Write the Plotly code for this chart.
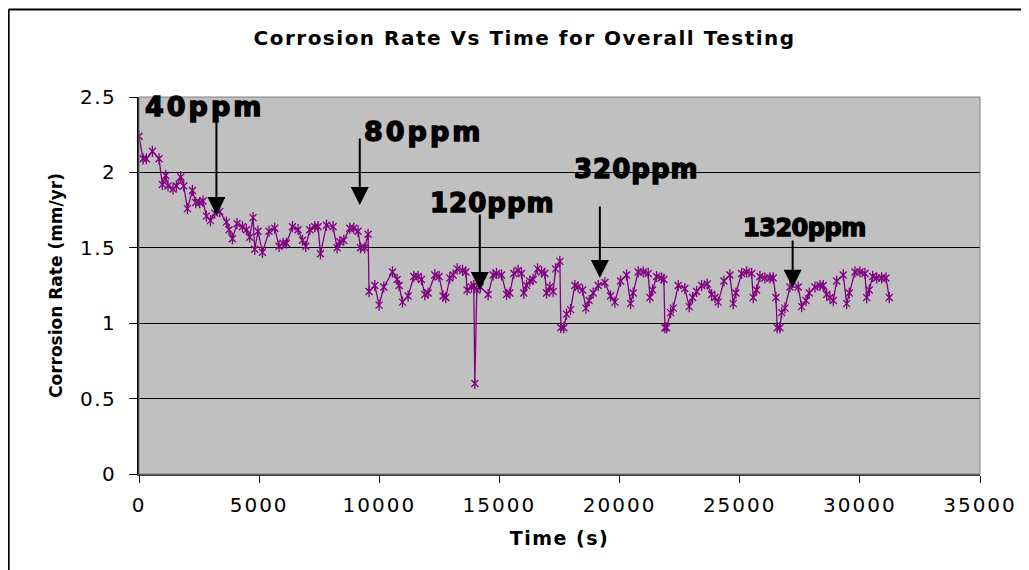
import plotly.graph_objects as go

# ---- data ----
time_s = [0, 167, 308, 558, 833, 974, 1112, 1207, 1415, 1557, 1736, 1861, 2015, 2223, 2361, 2527,
          2664, 2806, 2973, 3152, 3360, 3639, 3747, 3888, 4080, 4305, 4471, 4609, 4746, 4817, 4954,
          5137, 5412, 5649, 5828, 5995, 6137, 6386, 6620, 6803, 6940, 7107, 7315, 7452, 7552, 7802,
          8077, 8243, 8356, 8522, 8772, 8938, 9117, 9217, 9396, 9534,
          9575, 9813, 9992, 10187, 10549, 10741, 10824, 10966, 11199, 11436, 11615, 11757, 11894,
          12032, 12311, 12490, 12656, 12769, 12935, 13072, 13239, 13464, 13601, 13655, 13839, 13934,
          13976, 14059, 14205, 14530, 14738, 14880, 15088, 15296, 15433, 15599, 15778, 15920, 16016,
          16128, 16266, 16403, 16586, 16753, 16890, 16961, 17098, 17236, 17336, 17515,
          17556, 17681, 17793, 17960, 18139, 18277, 18460, 18597, 18734, 18901, 19109, 19388, 19625,
          19804, 20041, 20291, 20458, 20566, 20774, 20983, 21191, 21262, 21374, 21540, 21749, 21844,
          21886, 21957, 22123, 22232, 22440, 22718, 22898, 23039, 23206, 23414, 23647, 23830, 23968,
          24105, 24342, 24592, 24730, 24842, 25079, 25287, 25495, 25562, 25703, 25841, 26049, 26257,
          26395, 26507, 26561, 26674, 26744, 26882, 27090, 27436, 27577, 27756, 27893, 28131, 28339,
          28476, 28618, 28755, 28893, 29034, 29309, 29450, 29559, 29796, 30004, 30212, 30283, 30391,
          30533, 30699, 30907, 31087, 31224]
rate_mm_yr = [2.24, 2.09, 2.09, 2.14, 2.09, 1.92, 1.98, 1.91, 1.89, 1.91, 1.97, 1.91, 1.76, 1.88, 1.80, 1.80,
              1.81, 1.71, 1.68, 1.73, 1.74, 1.67, 1.62, 1.56, 1.66, 1.64, 1.62, 1.57, 1.70, 1.49, 1.61,
              1.47, 1.61, 1.63, 1.51, 1.53, 1.53, 1.64, 1.62, 1.55, 1.51, 1.62, 1.64, 1.64, 1.46, 1.65,
              1.64, 1.50, 1.54, 1.55, 1.63, 1.63, 1.61, 1.50, 1.50, 1.59,
              1.21, 1.25, 1.12, 1.24, 1.34, 1.29, 1.25, 1.14, 1.18, 1.31, 1.31, 1.29, 1.19,
              1.20, 1.32, 1.31, 1.18, 1.17, 1.30, 1.32, 1.36, 1.35, 1.34, 1.22, 1.24, 1.25,
              0.60, 1.22, 1.24, 1.19, 1.32, 1.33, 1.32, 1.19, 1.20, 1.33, 1.35, 1.33, 1.20,
              1.25, 1.28, 1.29, 1.36, 1.34, 1.33, 1.20, 1.24, 1.21, 1.36, 1.41,
              0.97, 0.97, 1.06, 1.09, 1.25, 1.24, 1.22, 1.10, 1.15, 1.20, 1.25, 1.27, 1.18,
              1.14, 1.28, 1.32, 1.13, 1.20, 1.34, 1.34, 1.33, 1.17, 1.22, 1.31, 1.30, 1.29,
              0.97, 0.97, 1.07, 1.10, 1.25, 1.23, 1.11, 1.17, 1.21, 1.25, 1.26, 1.19, 1.17,
              1.14, 1.28, 1.32, 1.13, 1.20, 1.33, 1.34, 1.33, 1.17, 1.22, 1.31, 1.30, 1.30,
              1.30, 1.17, 0.97, 0.97, 1.07, 1.10, 1.24, 1.24, 1.11, 1.15, 1.20, 1.24, 1.25,
              1.25, 1.19, 1.17, 1.15, 1.28, 1.32, 1.13, 1.20, 1.34, 1.34, 1.33, 1.17, 1.22,
              1.31, 1.30, 1.30, 1.30, 1.17]

dose_labels = ["40ppm", "80ppm", "120ppm", "320ppm", "1320ppm"]
x_ticks = [0, 5000, 10000, 15000, 20000, 25000, 30000, 35000]
x_tick_text = ["0", "5000", "10000", "15000", "20000", "25000", "30000", "35000"]
y_ticks = [0, 0.5, 1, 1.5, 2, 2.5]
y_tick_text = ["0", "0.5", "1", "1.5", "2", "2.5"]

PURPLE = "#800080"
FONT = "DejaVu Sans"


def spaced(t, ls):
    return f'<span style="letter-spacing:{ls}px">{t}</span>'


def big(t, ls):
    return f'<span style="letter-spacing:{ls}px;stroke:#000;stroke-width:1.4px">{t}</span>'


fig = go.Figure()
fig.add_trace(go.Scatter(
    x=time_s, y=rate_mm_yr, mode="lines+markers",
    line=dict(color=PURPLE, width=1.3),
    marker=dict(symbol="x-thin-open", size=7, color=PURPLE, line=dict(color=PURPLE, width=1.3)),
    showlegend=False, hoverinfo="x+y"))
fig.add_trace(go.Scatter(
    x=time_s, y=rate_mm_yr, mode="markers",
    marker=dict(symbol="line-ns-open", size=8, color=PURPLE, line=dict(color=PURPLE, width=1.3)),
    showlegend=False, hoverinfo="skip"))

annotations = []
# text labels: (label, x, y, font size, letter spacing)
label_specs = [
    (dose_labels[0], 2735, 2.44, 27, 3),
    (dose_labels[1], 11853, 2.27, 27, 3),
    (dose_labels[2], 14725, 1.80, 26, 1),
    (dose_labels[3], 20712, 2.02, 26, 1),
    (dose_labels[4], 27694, 1.63, 24, -0.5),
]
for lab, lx, ly, fs, ls in label_specs:
    annotations.append(dict(x=lx, y=ly, xref="x", yref="y", text=big(lab, ls), showarrow=False,
                            xanchor="center", yanchor="middle",
                            font=dict(family=FONT, size=fs, color="black", weight="bold")))
# arrows: (x, tail y, head y)
arrow_specs = [
    (3222, 2.36, 1.717),
    (9188, 2.234, 1.783),
    (14184, 1.73, 1.22),
    (19180, 1.783, 1.30),
    (27202, 1.558, 1.235),
]
for axx, ty, hy in arrow_specs:
    annotations.append(dict(x=axx, y=hy, ax=axx, ay=ty, xref="x", yref="y", axref="x", ayref="y",
                            text="", showarrow=True, arrowhead=2, arrowsize=1.8, arrowwidth=2,
                            arrowcolor="black", standoff=0))

shapes = [
    # plot-area frame (grey top/right)
    dict(type="rect", xref="paper", yref="paper", x0=0, x1=1, y0=0, y1=1,
         line=dict(color="#808080", width=1), layer="above"),
    # outer chart border (left and top edges visible)
    dict(type="line", xref="paper", yref="paper", x0=-0.155, x1=-0.155, y0=-0.3, y1=1.2323,
         line=dict(color="black", width=2)),
    dict(type="line", xref="paper", yref="paper", x0=-0.155, x1=1.1, y0=1.2323, y1=1.2323,
         line=dict(color="black", width=2)),
]

fig.update_layout(
    width=1029, height=570,
    margin=dict(l=131, r=57, t=89, b=104),
    paper_bgcolor="white", plot_bgcolor="#C0C0C0",
    title=dict(text=spaced("Corrosion Rate Vs Time for Overall Testing", 1.5),
               x=0.502, xanchor="center", y=1 - 30 / 570, yanchor="middle",
               font=dict(family=FONT, size=20, color="black", weight="bold")),
    xaxis=dict(range=[0, 35000], tickvals=x_ticks, ticktext=[spaced(t, 2) for t in x_tick_text],
               showgrid=False, zeroline=False,
               showline=True, linecolor="#404040", linewidth=1.5, ticks="outside", ticklen=7,
               tickcolor="black", tickwidth=1, ticklabelstandoff=5,
               tickfont=dict(family=FONT, size=20, color="black"),
               title=dict(text=spaced("Time (s)", 1.5),
                          font=dict(family=FONT, size=19, color="black", weight="bold"), standoff=16)),
    yaxis=dict(range=[0, 2.5], tickvals=y_ticks, ticktext=[spaced(t, 1.5) for t in y_tick_text],
               showgrid=True, gridcolor="black", gridwidth=1,
               zeroline=False, showline=True, linecolor="black", linewidth=1.5, ticks="outside",
               ticklen=8, tickcolor="black", tickwidth=1, ticklabelstandoff=9,
               tickfont=dict(family=FONT, size=20, color="black"),
               title=dict(text="Corrosion Rate (mm/yr)",
                          font=dict(family=FONT, size=17, color="black", weight="bold"), standoff=13)),
    annotations=annotations,
    shapes=shapes,
)

fig.write_html("out.html")
